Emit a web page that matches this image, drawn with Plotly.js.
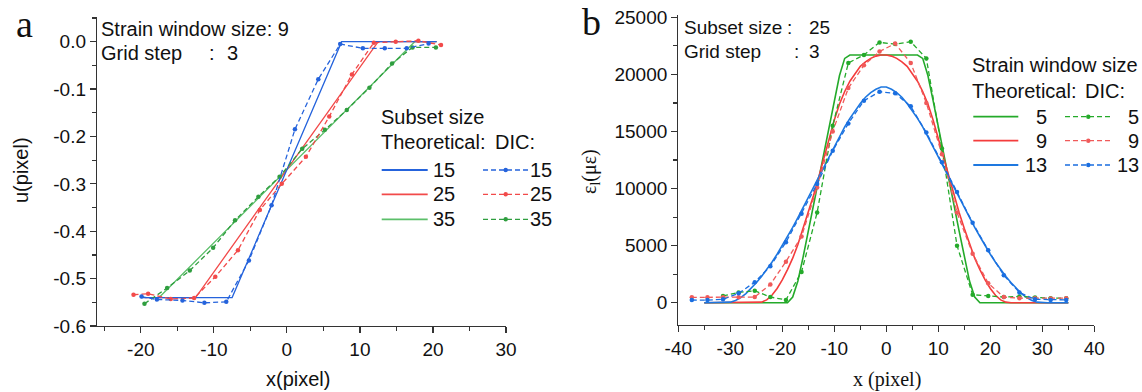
<!DOCTYPE html>
<html>
<head>
<meta charset="utf-8">
<script src="https://cdn.plot.ly/plotly-3.0.1.min.js"></script>
<style>html,body{margin:0;padding:0;background:#fff;}#chart{width:1142px;height:392px;}</style>
</head>
<body>
<div id="chart"></div>
<script>
// ---------- Panel a : displacement u(x) ----------
const subsetSizes = ['15', '25', '35'];
const theo15X = [-20, -7.5, 7.5, 20.5];
const theo15Y = [-0.54, -0.54, 0, 0];
const theo25X = [-19.5, -12.5, 12.5, 20.5];
const theo25Y = [-0.54, -0.54, 0, 0];
const theo35X = [-17.5, 17.5, 20.5];
const theo35Y = [-0.54, 0, 0];

const dic15X = [-19.9, -17.8, -14.3, -11.3, -8.3, -5.2, -2.1, 1.1, 4.3, 7.3, 10.4, 13.4, 16.4, 19.4];
const dic15Y = [-0.538, -0.544, -0.546, -0.551, -0.549, -0.462, -0.345, -0.185, -0.079, -0.005, -0.014, -0.014, -0.014, -0.004];
const dic25X = [-21.0, -19.0, -15.9, -12.7, -9.8, -6.7, -3.7, -0.7, 2.6, 5.8, 8.9, 11.9, 14.9, 18.0, 21.1];
const dic25Y = [-0.534, -0.532, -0.543, -0.541, -0.496, -0.440, -0.355, -0.300, -0.243, -0.158, -0.069, -0.002, 0.000, 0.002, -0.007];
const dic35X = [-19.5, -16.4, -13.3, -10.1, -7.1, -3.9, -1.0, 2.1, 5.2, 8.2, 11.3, 14.4, 17.2, 20.4];
const dic35Y = [-0.553, -0.520, -0.483, -0.435, -0.377, -0.327, -0.285, -0.226, -0.186, -0.144, -0.097, -0.046, -0.012, -0.012];

// ---------- Panel b : strain ----------
const windowSizes = ['5', '9', '13'];
const theoX = [-35,-34,-33,-32,-31,-30,-29,-28,-27,-26,-25,-24,-23,-22,-21,-20,-19,-18,-17,-16,-15,-14,-13,-12,-11,-10,-9,-8,-7,-6,-5,-4,-3,-2,-1,
  0,1,2,3,4,5,6,7,8,9,10,11,12,13,14,15,16,17,18,19,20,21,22,23,24,25,26,27,28,29,30,31,32,33,34,35];
const theo5 = [0,0,0,0,0,0,0,0,0,0,0,0,0,0,0,0,0,
  500,1900,4000,6300,8600,10900,13200,15500,17700,19900,21400,
  21700,21700,21700,21700,21700,21700,21700,21700,21700,21700,21700,21700,21700,21700,
  21400,19900,17700,15500,13200,10900,8600,6300,4000,1900,500,
  0,0,0,0,0,0,0,0,0,0,0,0,0,0,0,0,0,0];
const theo9 = [0,0,0,0,0,0,0,0,0,0,0,
  50,250,650,1250,2000,2900,3900,5100,6500,7900,9400,11000,12700,14400,16000,17400,18500,19400,20100,20700,21100,21400,21600,21700,
  21700,21600,21400,21100,20700,20100,19400,18500,17400,16000,14400,12700,11000,9400,7900,6500,5100,3900,2900,2000,1250,650,250,50,
  0,0,0,0,0,0,0,0,0,0,0,0];
const theo13 = [0,0,0,0,0,
  50,200,450,800,1250,1750,2300,2900,3550,4250,5000,5800,6600,7450,8300,9200,10100,11000,11900,12800,13700,14550,15400,16150,16850,17450,18000,18400,18700,18900,
  18900,18700,18400,18000,17450,16850,16150,15400,14550,13700,12800,11900,11000,10100,9200,8300,7450,6600,5800,5000,4250,3550,2900,2300,1750,1250,800,450,200,50,
  0,0,0,0,0,0];

const dicX = [-37.4,-34.4,-31.4,-28.4,-25.3,-22.3,-19.3,-16.3,-13.3,-10.3,-7.3,-4.3,-1.3,1.7,4.7,7.7,10.7,13.6,16.6,19.6,22.6,25.6,28.6,31.6,34.6];
const dic5  = [null,null,600,900,1050,500,250,2700,7900,15500,21000,21700,22800,22650,22860,21400,13500,5000,700,600,500,550,450,400,400];
const dic9  = [470,470,480,470,500,1600,3600,5800,10100,15000,18800,20800,22000,22700,21000,17500,13000,7900,4300,1700,500,400,400,380,400];
const dic13 = [240,230,300,820,1800,3200,5300,7800,10400,13300,15700,17700,18480,18340,17200,14900,12300,9700,7000,4600,2400,900,300,250,250];

// tick labels
const axTickVals = [-20,-10,0,10,20,30];
const axTickText = ['-20','-10','0','10','20','30'];
const ayTickVals = [0,-0.1,-0.2,-0.3,-0.4,-0.5,-0.6];
const ayTickText = ['0.0','-0.1','-0.2','-0.3','-0.4','-0.5','-0.6'];
const bxTickVals = [-40,-30,-20,-10,0,10,20,30,40];
const bxTickText = ['-40','-30','-20','-10','0','10','20','30','40'];
const byTickVals = [0,5000,10000,15000,20000,25000];
const byTickText = ['0','5000','10000','15000','20000','25000'];

// ---------- styling ----------
const SANS = 'Liberation Sans, Arial, Helvetica, sans-serif';
const SERIF = 'Liberation Serif, Times New Roman, serif';
const TXT = '#111111';
const A_BLUE = '#2563dc', A_RED = '#f24a4a', A_GREEN_T = '#5cbf6a', A_GREEN_D = '#2f9e3f';
const B_GREEN = '#24aa2a', B_RED = '#f43c3c', B_BLUE = '#1e78e0';
const B_RED_D = '#f05a5a', B_BLUE_D = '#1a6ee0';
const DASH = '5px,3px';

function solid(x, y, color, ax, w) {
  return {x: x, y: y, xaxis: ax[0], yaxis: ax[1], type: 'scatter', mode: 'lines',
    line: {color: color, width: w || 1.3}, showlegend: false, hoverinfo: 'skip'};
}
function dashed(x, y, color, ax) {
  return {x: x, y: y, xaxis: ax[0], yaxis: ax[1], type: 'scatter', mode: 'lines+markers',
    line: {color: color, width: 1.3, dash: DASH}, marker: {color: color, size: 4.5, symbol: 'circle'},
    showlegend: false, hoverinfo: 'skip', connectgaps: false};
}
const A = ['x', 'y'], B = ['x2', 'y2'];

const traces = [
  solid(theo35X, theo35Y, A_GREEN_T, A),
  solid(theo25X, theo25Y, A_RED, A),
  solid(theo15X, theo15Y, A_BLUE, A),
  dashed(dic35X, dic35Y, A_GREEN_D, A),
  dashed(dic25X, dic25Y, A_RED, A),
  dashed(dic15X, dic15Y, A_BLUE, A),
  solid(theoX, theo5, B_GREEN, B, 1.6),
  solid(theoX, theo9, B_RED, B, 1.6),
  solid(theoX, theo13, B_BLUE, B, 1.6),
  dashed(dicX, dic5, B_GREEN, B),
  dashed(dicX, dic9, B_RED_D, B),
  dashed(dicX, dic13, B_BLUE_D, B)
];

// ---------- paper helpers ----------
const W = 1142, H = 392;
const PX = v => v / W, PY = v => (H - v) / H;
function txt(x, y, text, o) {
  return Object.assign({xref: 'paper', yref: 'paper', x: PX(x), y: PY(y), text: text, showarrow: false,
    xanchor: 'left', yanchor: 'middle', borderpad: 0, borderwidth: 0,
    font: {family: SANS, size: 20, color: TXT}}, o || {});
}
function legLine(x0, x1, y, color, dash) {
  return {type: 'line', xref: 'paper', yref: 'paper', x0: PX(x0), x1: PX(x1), y0: PY(y), y1: PY(y),
    line: {color: color, width: dash ? 1.3 : 1.8, dash: dash ? DASH : 'solid'}};
}
function legDot(cx, cy, color) {
  const r = 2.2;
  return {type: 'circle', xref: 'paper', yref: 'paper', x0: PX(cx - r), x1: PX(cx + r), y0: PY(cy + r), y1: PY(cy - r),
    fillcolor: color, line: {color: color, width: 0}};
}

const rowsA = [170, 194.3, 219.3];
const colA = [[A_BLUE, A_BLUE], [A_RED, A_RED], [A_GREEN_T, A_GREEN_D]];
const rowsB = [116.7, 140.7, 165];
const colB = [[B_GREEN, B_GREEN], [B_RED, B_RED_D], [B_BLUE, B_BLUE_D]];
const F19 = {font: {family: SANS, size: 19, color: TXT}};

const annotations = [
  txt(24, 24, 'a', {xanchor: 'center', font: {family: SERIF, size: 38, color: TXT}}),
  txt(591, 22, 'b', {xanchor: 'center', font: {family: SERIF, size: 38, color: TXT}}),
  // panel a info
  txt(101, 29.3, 'Strain window size: 9'),
  txt(101, 53.3, 'Grid step'),
  txt(209, 53.3, ':'),
  txt(227, 53.3, '3'),
  // panel b info
  txt(684, 27.3, 'Subset size', F19),
  txt(787, 27.3, ':', F19),
  txt(809, 27.3, '25', F19),
  txt(684, 51.7, 'Grid step', F19),
  txt(794, 51.7, ':', F19),
  txt(809, 51.7, '3', F19),
  // legend a
  txt(381, 117.3, 'Subset size'),
  txt(381, 141.7, 'Theoretical:'),
  txt(495, 141.7, 'DIC:'),
  // legend b
  txt(972, 65, 'Strain window size'),
  txt(972, 90.7, 'Theoretical:'),
  txt(1085, 90.7, 'DIC:'),
  // axis titles
  txt(21, 170, 'u(pixel)', {xanchor: 'center', textangle: -90}),
  txt(298, 379, 'x(pixel)', {xanchor: 'center'}),
  txt(590, 172, '\u03b5<sub>l</sub>(\u03bc\u03b5)', {xanchor: 'center', textangle: -90, font: {family: SERIF, size: 20, color: TXT}}),
  txt(887, 379, 'x (pixel)', {xanchor: 'center', font: {family: SERIF, size: 20, color: TXT}})
];
const shapes = [];
subsetSizes.forEach((s, i) => {
  annotations.push(txt(433, rowsA[i], s));
  annotations.push(txt(530, rowsA[i], s));
  shapes.push(legLine(381.7, 427.7, rowsA[i], colA[i][0], false));
  shapes.push(legLine(483, 528, rowsA[i], colA[i][1], true));
  shapes.push(legDot(505.7, rowsA[i], colA[i][1]));
});
windowSizes.forEach((s, i) => {
  annotations.push(txt(1047, rowsB[i], s, {xanchor: 'right'}));
  annotations.push(txt(1139, rowsB[i], s, {xanchor: 'right'}));
  shapes.push(legLine(973.3, 1018.3, rowsB[i], colB[i][0], false));
  shapes.push(legLine(1065, 1111.7, rowsB[i], colB[i][1], true));
  shapes.push(legDot(1088.3, rowsB[i], colB[i][1]));
});

function axis(o) {
  return Object.assign({showgrid: false, zeroline: false, showline: true, linecolor: '#333', linewidth: 1.2,
    ticks: 'outside', ticklen: 6, tickwidth: 1.2, tickcolor: '#333', mirror: false, tickmode: 'array',
    tickfont: {family: SANS, size: 19, color: TXT}, fixedrange: true}, o);
}

const layout = {
  width: W, height: H,
  margin: {l: 0, r: 0, t: 0, b: 0, pad: 0},
  paper_bgcolor: '#ffffff', plot_bgcolor: '#ffffff',
  showlegend: false,
  xaxis: axis({domain: [PX(97), PX(506)], range: [-26, 30], anchor: 'y',
    tickvals: axTickVals, ticktext: axTickText,
    minor: {tickmode: 'array', tickvals: [-25, -15, -5, 5, 15, 25], ticklen: 4, tickwidth: 1.2, tickcolor: '#333', ticks: 'outside'}}),
  yaxis: axis({domain: [PY(326), PY(17.3)], range: [-0.6, 0.0515], anchor: 'x',
    tickvals: ayTickVals, ticktext: ayTickText,
    minor: {tickmode: 'array', tickvals: [0.05, -0.05, -0.15, -0.25, -0.35, -0.45, -0.55], ticklen: 4, tickwidth: 1.2, tickcolor: '#333', ticks: 'outside'}}),
  xaxis2: axis({domain: [PX(678.3), PX(1094.3)], range: [-40, 40], anchor: 'y2',
    tickvals: bxTickVals, ticktext: bxTickText,
    minor: {tickmode: 'array', tickvals: [-35, -25, -15, -5, 5, 15, 25, 35], ticklen: 4, tickwidth: 1.2, tickcolor: '#333', ticks: 'outside'}}),
  yaxis2: axis({domain: [PY(325), PY(15)], range: [-1950, 25200], anchor: 'x2',
    tickvals: byTickVals, ticktext: byTickText,
    minor: {tickmode: 'array', tickvals: [2500, 7500, 12500, 17500, 22500], ticklen: 4, tickwidth: 1.2, tickcolor: '#333', ticks: 'outside'}}),
  annotations: annotations,
  shapes: shapes
};

Plotly.newPlot('chart', traces, layout, {staticPlot: true, displayModeBar: false});
</script>
</body>
</html>
